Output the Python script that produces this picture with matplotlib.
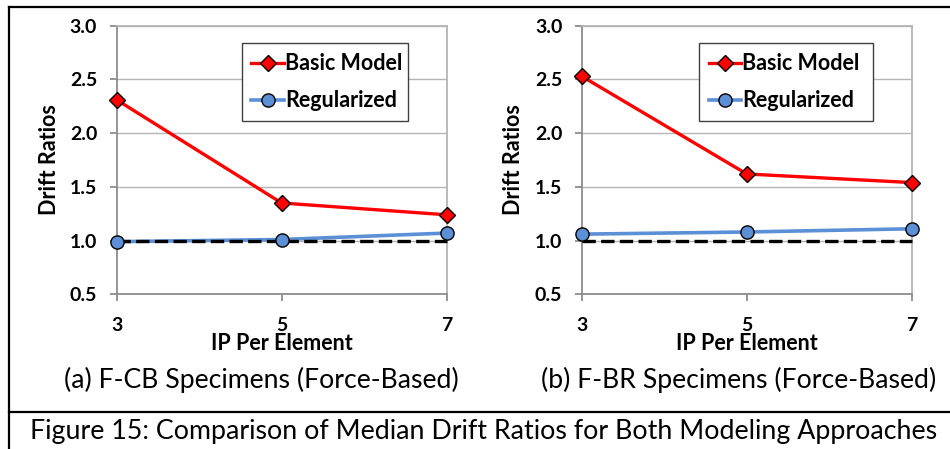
import matplotlib
matplotlib.use("Agg")
import matplotlib.pyplot as plt
from matplotlib.lines import Line2D
import numpy as np

plt.rcParams['font.family'] = ['Lato', 'DejaVu Sans']

ip_per_element = [3, 5, 7]
fcb_basic = [2.31, 1.35, 1.24]
fcb_regularized = [0.99, 1.01, 1.07]
fbr_basic = [2.53, 1.62, 1.54]
fbr_regularized = [1.06, 1.08, 1.11]
y_ticks = [0.5, 1.0, 1.5, 2.0, 2.5, 3.0]

panels = [
    ("(a) F-CB Specimens (Force-Based)", fcb_basic, fcb_regularized),
    ("(b) F-BR Specimens (Force-Based)", fbr_basic, fbr_regularized),
]

RED = "#ff0000"
BLUE = "#5b8fd6"
AXIS_GRAY = "#8c8c8c"
GRID_GRAY = "#b4b4b4"

fig = plt.figure(figsize=(9.5, 4.49), dpi=100)

ax_lefts = [0.1228, 0.6123]
cap_x = [261 / 950, 739 / 950]
ylab_x = [49 / 950, 514 / 950]
leg_boxes = [(0.379, 0.505), (0.355, 0.529)]

for i, (caption, basic, reg) in enumerate(panels):
    ax = fig.add_axes([ax_lefts[i], 0.3445, 0.3474, 0.5983])
    ax.plot(ip_per_element, reg, color=BLUE, lw=2.6, zorder=3, clip_on=False)
    ax.plot([ip_per_element[0], ip_per_element[-1]], [1.0, 1.0], color="black",
            lw=2.4, dashes=(4, 1.6), zorder=4, clip_on=False)
    ax.plot(ip_per_element, reg, ls="none", marker="o", ms=9.5, mfc=BLUE,
            mec="black", mew=1.0, zorder=5, clip_on=False)
    ax.plot(ip_per_element, basic, color=RED, lw=2.4, marker="D", ms=8,
            mfc=RED, mec="black", mew=1.0, zorder=6, clip_on=False)

    ax.set_xlim(3, 7)
    ax.set_ylim(0.5, 3.0)
    ax.set_xticks(ip_per_element)
    ax.set_xticklabels([str(v) for v in ip_per_element])
    ax.set_yticks(y_ticks)
    ax.set_yticklabels(["%.1f" % v for v in y_ticks])
    ax.grid(axis="y", color=GRID_GRAY, lw=1.0)
    ax.set_axisbelow(True)
    for sp in ax.spines.values():
        sp.set_color(AXIS_GRAY)
        sp.set_linewidth(1.3)
    ax.spines["top"].set_color(GRID_GRAY)
    ax.spines["right"].set_color(GRID_GRAY)
    ax.tick_params(axis="both", direction="out", length=5, width=1.3,
                   color=AXIS_GRAY, labelsize=14)
    ax.tick_params(axis="x", pad=11)
    ax.tick_params(axis="y", pad=9)
    for lab in ax.get_xticklabels() + ax.get_yticklabels():
        lab.set_fontweight("bold")

    ax.set_xlabel("IP Per Element", fontsize=15.5, fontweight="bold")
    ax.xaxis.set_label_coords(0.5, 1 - 344 / 449, transform=fig.transFigure)
    ax.xaxis.label.set_verticalalignment("center")
    ax.xaxis.label.set_x(ax_lefts[i] + 0.3474 / 2)
    ax.set_ylabel("Drift Ratios", fontsize=15.5, fontweight="bold")
    ax.yaxis.set_label_coords(ylab_x[i], 0.6452, transform=fig.transFigure)
    ax.yaxis.label.set_verticalalignment("center")

    handles = [
        Line2D([], [], color=RED, lw=2.4, marker="D", ms=8, mfc=RED,
               mec="black", mew=1.0),
        Line2D([], [], color=BLUE, lw=2.6, marker="o", ms=9.5, mfc=BLUE,
               mec="black", mew=1.0),
    ]
    x0, w = leg_boxes[i]
    leg = ax.legend(handles, ["Basic Model", "Regularized"],
                    loc="upper left", bbox_to_anchor=(x0, 0.934, w, 0.0),
                    mode="expand", borderaxespad=0, fancybox=False,
                    framealpha=1, edgecolor="#404040", handlelength=1.5,
                    handletextpad=0.05, labelspacing=0.75, borderpad=0.45,
                    prop={"weight": "bold", "size": 15.5})
    leg.get_frame().set_linewidth(1.0)
    leg.set_zorder(10)

    fig.text(cap_x[i], 1 - 380 / 449, caption, ha="center", va="center",
             fontsize=19.2)

fig.text(484 / 950, 1 - 432 / 449,
         "Figure 15: Comparison of Median Drift Ratios for Both Modeling Approaches",
         ha="center", va="center", fontsize=19.3)

# frame lines around the figure block
fig.add_artist(Line2D([9 / 950, 1.0], [1 - 7 / 449, 1 - 7 / 449],
                      color="black", lw=1.6, transform=fig.transFigure))
fig.add_artist(Line2D([9 / 950, 9 / 950], [0.0, 1 - 7 / 449],
                      color="black", lw=1.6, transform=fig.transFigure))
fig.add_artist(Line2D([9 / 950, 1.0], [1 - 412 / 449, 1 - 412 / 449],
                      color="black", lw=1.6, transform=fig.transFigure))

fig.savefig("out.png", dpi=100, facecolor="white")
